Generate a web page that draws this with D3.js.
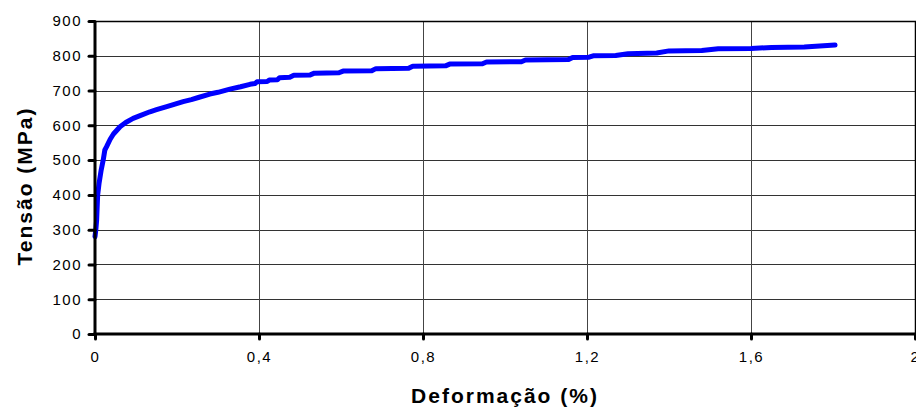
<!DOCTYPE html>
<html>
<head>
<meta charset="utf-8">
<script src="https://cdn.jsdelivr.net/npm/d3@7"></script>
<style>
  html, body { margin: 0; padding: 0; background: #fff; }
  svg { display: block; }
  text { font-family: "Liberation Sans", Arial, sans-serif; fill: #000; }
</style>
</head>
<body>
<script>
// Stress–strain curve (strain in %, stress in MPa)
const strain = [0, 0.002, 0.004, 0.0065, 0.010, 0.015, 0.020, 0.024, 0.028, 0.037, 0.045, 0.061, 0.075, 0.093, 0.110, 0.134, 0.150, 0.175, 0.195, 0.215, 0.235, 0.252, 0.280, 0.300, 0.329, 0.355, 0.378, 0.390, 0.395, 0.420, 0.425, 0.445, 0.450, 0.475, 0.485, 0.525, 0.535, 0.595, 0.605, 0.675, 0.685, 0.765, 0.775, 0.855, 0.865, 0.945, 0.955, 1.040, 1.050, 1.155, 1.165, 1.205, 1.215, 1.270, 1.300, 1.370, 1.400, 1.480, 1.520, 1.600, 1.650, 1.730, 1.805];
const stress = [280, 300, 328, 400, 434, 471, 500, 529, 538, 560, 575, 596, 608, 620, 628, 639, 645, 654, 661, 668, 674, 680, 690, 695, 704, 711, 718, 720, 725, 726, 730, 731, 737, 738, 744, 745, 750, 751, 756, 757, 763, 764, 770, 771, 776, 777, 782, 783, 788, 789, 795, 796, 800, 801, 806, 808, 814, 815, 820, 821, 824, 825, 831];

const xTicks = [0, 0.4, 0.8, 1.2, 1.6, 2];
const xTickLabels = ["0", "0,4", "0,8", "1,2", "1,6", "2"];
const yTicks = [0, 100, 200, 300, 400, 500, 600, 700, 800, 900];

const xTitle = "Deformação (%)";
const yTitle = "Tensão (MPa)";

const W = 916, H = 408;
const mLeft = 95, mRight = 915, mTop = 21, mBottom = 334;

const svg = d3.select("body").append("svg").attr("width", W).attr("height", H);

const x = d3.scaleLinear().domain([0, 2]).range([mLeft, mRight]);
const y = d3.scaleLinear().domain([0, 900]).range([mBottom, mTop]);

// gridlines
const grid = svg.append("g");
grid.selectAll("line.h").data(yTicks.filter(v => v > 0 && v < 900)).enter().append("line")
  .attr("x1", mLeft).attr("x2", mRight)
  .attr("y1", d => Math.round(y(d)) + 0.5).attr("y2", d => Math.round(y(d)) + 0.5)
  .attr("stroke", "#333").attr("stroke-width", 1);
grid.selectAll("line.v").data(xTicks.filter(v => v > 0 && v < 2)).enter().append("line")
  .attr("x1", d => Math.round(x(d)) + 0.5).attr("x2", d => Math.round(x(d)) + 0.5)
  .attr("y1", mTop).attr("y2", mBottom)
  .attr("stroke", "#444").attr("stroke-width", 1);

// plot frame (top and right)
svg.append("path")
  .attr("d", `M${mLeft},${mTop + 0.5}H${mRight + 0.5}V${mBottom}`)
  .attr("fill", "none").attr("stroke", "#000").attr("stroke-width", 1.5);

// curve
const line = d3.line().x((d, i) => x(strain[i])).y(d => y(d));
svg.append("path")
  .datum(stress)
  .attr("d", line)
  .attr("fill", "none")
  .attr("stroke", "#0000ff")
  .attr("stroke-width", 5)
  .attr("stroke-linejoin", "round")
  .attr("stroke-linecap", "round");

// axes
const yAxis = svg.append("g").attr("transform", `translate(${mLeft},0)`)
  .call(d3.axisLeft(y).tickValues(yTicks).tickSize(6).tickPadding(10).tickSizeOuter(0));
const xAxis = svg.append("g").attr("transform", `translate(0,${mBottom})`)
  .call(d3.axisBottom(x).tickValues(xTicks).tickSize(5).tickPadding(12).tickSizeOuter(0)
    .tickFormat((d, i) => xTickLabels[i]));

[yAxis, xAxis].forEach(g => {
  g.select(".domain").attr("stroke", "#000").attr("stroke-width", 3);
  g.selectAll(".tick line").attr("stroke", "#000").attr("stroke-width", 3).attr("stroke-linecap", "round");
  g.selectAll(".tick text")
    .attr("font-family", "'Liberation Sans', Arial, sans-serif")
    .attr("font-size", 15)
    .style("letter-spacing", "1.5px")
    .attr("fill", "#000");
});
yAxis.select(".domain").attr("d", `M0,${mTop}V${mBottom + 1.5}`);
xAxis.select(".domain").attr("d", `M${mLeft - 1.5},0H${mRight}`);
yAxis.selectAll(".tick text").attr("x", -13);

// axis titles
svg.append("text")
  .attr("x", (mLeft + mRight) / 2).attr("y", 403)
  .attr("text-anchor", "middle")
  .attr("font-size", 21).attr("font-weight", "bold")
  .style("letter-spacing", "2px")
  .text(xTitle);

svg.append("text")
  .attr("transform", "translate(32,186) rotate(-90)")
  .attr("text-anchor", "middle")
  .attr("font-size", 21).attr("font-weight", "bold")
  .style("letter-spacing", "2px")
  .text(yTitle);
</script>
</body>
</html>
